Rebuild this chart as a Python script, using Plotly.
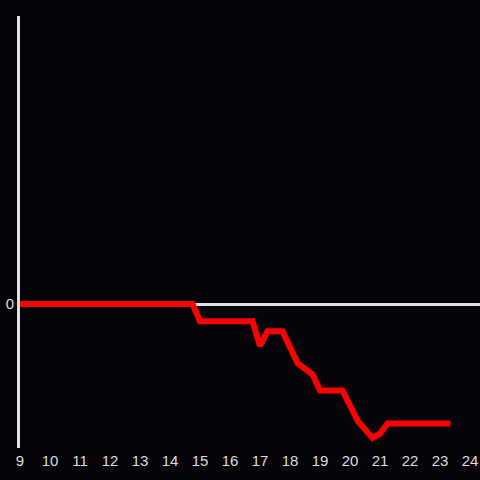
import plotly.graph_objects as go

hours = [9.0, 14.75, 15.0, 16.75, 17.0, 17.25, 17.75, 18.25, 18.75, 19.0, 19.75, 20.25, 20.75, 21.0, 21.25, 23.35]
values = [0.0, 0.0, -0.12, -0.12, -0.29, -0.19, -0.19, -0.41, -0.49, -0.6, -0.6, -0.81, -0.93, -0.9, -0.83, -0.83]
x_ticks = list(range(9, 25))
y_ticks = [0]
y_tick_labels = ["0"]

fig = go.Figure()
fig.add_trace(go.Scatter(x=hours, y=values, mode="lines",
                         line=dict(color="#ff0000", width=6), cliponaxis=False))

fig.update_layout(
    width=480, height=480,
    margin=dict(l=20, r=0, t=16, b=32),
    paper_bgcolor="#060408", plot_bgcolor="#060408",
    showlegend=False,
    xaxis=dict(range=[9, 24.333], tickvals=x_ticks, ticktext=[str(t) for t in x_ticks],
               showgrid=False, zeroline=False, showline=False, ticklabelstandoff=2,
               tickfont=dict(color="#dddddd", size=15, family="Liberation Sans, Arial, sans-serif")),
    yaxis=dict(range=[-1, 2], tickvals=y_ticks, ticktext=y_tick_labels,
               showgrid=False, zeroline=True, zerolinecolor="#e0e0e0", zerolinewidth=3,
               showline=True, linecolor="#e0e0e0", linewidth=3,
               tickfont=dict(color="#dddddd", size=15, family="Liberation Sans, Arial, sans-serif")),
)

fig.write_html("out.html", config={"displayModeBar": False},
               post_script="document.body.style.margin='0';document.body.style.overflow='hidden';document.body.style.background='#060408';")
